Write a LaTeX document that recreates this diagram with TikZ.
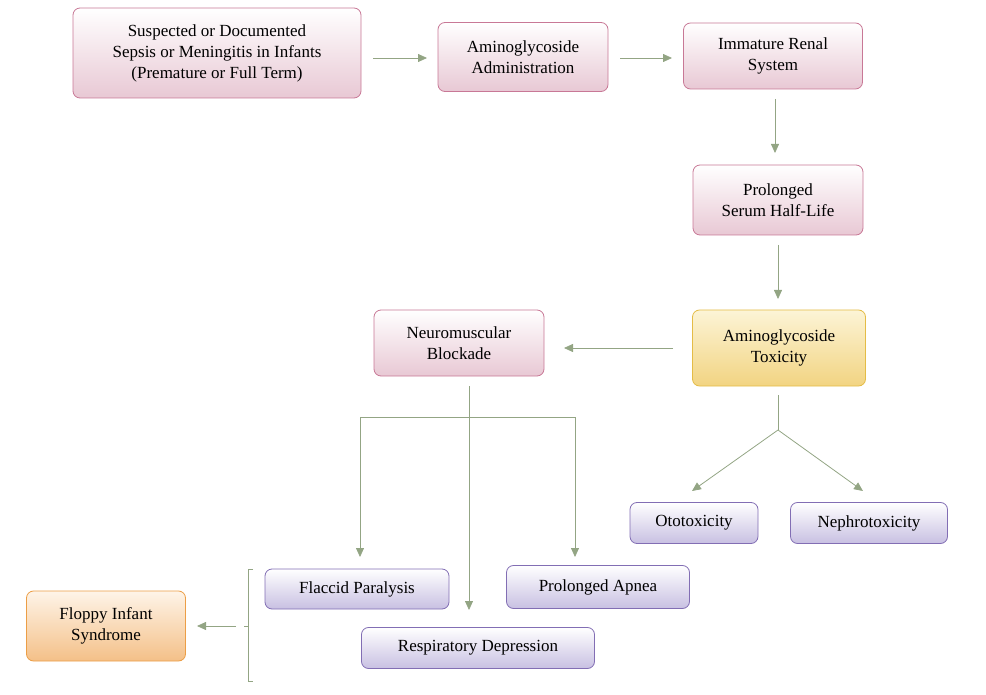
\documentclass[tikz,border=0pt]{standalone}
\usepackage{fontspec}
\setmainfont{Liberation Serif}
\usetikzlibrary{arrows.meta}
\definecolor{ln}{HTML}{93A584}
\begin{document}
\begin{tikzpicture}[x=1pt,y=-1pt,
 box/.style={draw, rounded corners=7pt, line width=0.8pt, align=center, inner sep=0pt, font=\fontsize{17}{21}\selectfont},
 pink/.style={box, draw={rgb,255:red,200;green,120;blue,150}, top color=white, bottom color={rgb,255:red,232;green,200;blue,212}},
 purp/.style={box, draw={rgb,255:red,130;green,110;blue,180}, top color=white, bottom color={rgb,255:red,200;green,192;blue,226}},
 yel/.style={box, draw={rgb,255:red,228;green,188;blue,70}, top color={rgb,255:red,252;green,244;blue,214}, bottom color={rgb,255:red,242;green,212;blue,130}},
 ora/.style={box, draw={rgb,255:red,236;green,158;blue,70}, top color={rgb,255:red,254;green,244;blue,232}, bottom color={rgb,255:red,244;green,192;blue,136}},
 ar/.style={draw=ln, line width=0.8pt, -{Triangle[length=9pt,width=8pt,fill=ln]}},
 ln/.style={draw=ln, line width=0.8pt}]
\useasboundingbox (0,0) rectangle (986,695);
\node[pink, minimum width=288pt, minimum height=90pt] (sep) at (217,53) {Suspected or Documented\\Sepsis or Meningitis in Infants\\(Premature or Full Term)};
\node[pink, minimum width=170pt, minimum height=69pt] (adm) at (523,57) {Aminoglycoside\\Administration};
\node[pink, minimum width=179pt, minimum height=66pt] (ren) at (773,56) {Immature Renal\\System};
\node[pink, minimum width=170pt, minimum height=70pt] (hl) at (778,200) {Prolonged\\Serum Half-Life};
\node[yel, minimum width=173pt, minimum height=76pt] (tox) at (779,348) {Aminoglycoside\\Toxicity};
\node[pink, minimum width=170pt, minimum height=66pt] (nm) at (459,343) {Neuromuscular\\Blockade};
\node[purp, minimum width=128pt, minimum height=41pt] (oto) at (694,523) {Ototoxicity};
\node[purp, minimum width=157pt, minimum height=41pt] (neph) at (869,523) {Nephrotoxicity};
\node[purp, minimum width=184pt, minimum height=40pt] (fla) at (357,589) {Flaccid Paralysis};
\node[purp, minimum width=183pt, minimum height=43pt] (apn) at (598,587) {Prolonged Apnea};
\node[purp, minimum width=233pt, minimum height=41pt] (rd) at (478,648) {Respiratory Depression};
\node[ora, minimum width=159pt, minimum height=70pt] (flo) at (106,626) {Floppy Infant\\Syndrome};
\coordinate (s1) at (373,58); \coordinate (e1) at (427,58);
\draw[ar] (s1) -- (e1);
\coordinate (s2) at (620,58); \coordinate (e2) at (672,58);
\draw[ar] (s2) -- (e2);
\coordinate (s3) at (775,99); \coordinate (e3) at (775,153);
\draw[ar] (s3) -- (e3);
\coordinate (s4) at (778,245); \coordinate (e4) at (778,299);
\draw[ar] (s4) -- (e4);
\coordinate (s5) at (673,348); \coordinate (e5) at (564,348);
\draw[ar] (s5) -- (e5);
\coordinate (t0) at (778,395); \coordinate (t1) at (778,430);
\coordinate (ot) at (692,491); \coordinate (nt) at (863,491);
\draw[ln] (t0) -- (t1);
\draw[ar] (t1) -- (ot);
\draw[ar] (t1) -- (nt);
\coordinate (n0) at (469,386); \coordinate (n1) at (469,610);
\draw[ar] (n0) -- (n1);
\coordinate (hl1) at (360,417); \coordinate (hr1) at (575,417);
\coordinate (hl2) at (360,557); \coordinate (hr2) at (575,557);
\draw[ln] (hl1) -- (hr1);
\draw[ar] (hl1) -- (hl2);
\draw[ar] (hr1) -- (hr2);
\coordinate (b1) at (253,569); \coordinate (b2) at (253,681);
\draw[ln] (b1) -- ++(-5,0) -- (248,681) -- (b2);
\coordinate (bm) at (248,626); \coordinate (bx) at (236,626); \coordinate (be) at (197,626);
\draw[ln] (bm) -- (244,626);
\draw[ar] (bx) -- (be);
\end{tikzpicture}
\end{document}
